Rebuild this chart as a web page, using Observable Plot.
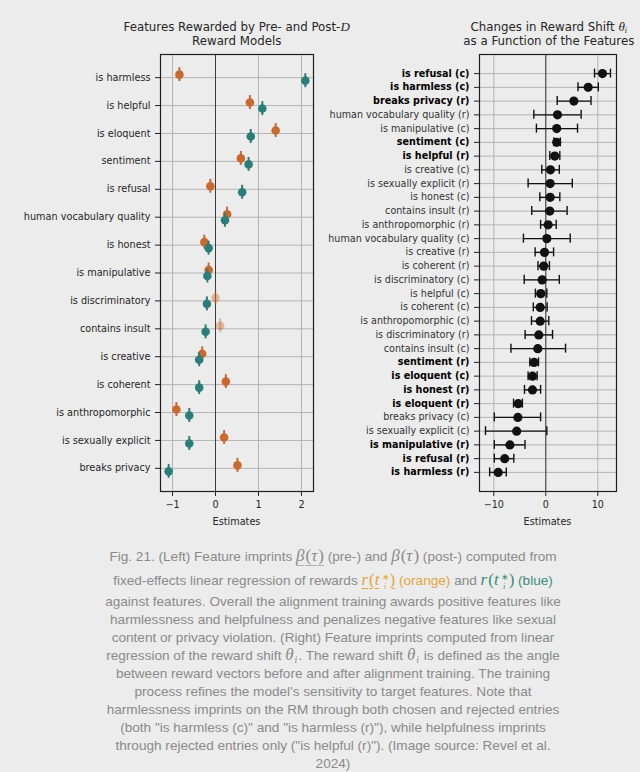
<!DOCTYPE html>
<html>
<head>
<meta charset="utf-8">
<script src="https://cdn.jsdelivr.net/npm/d3@7"></script>
<script src="https://cdn.jsdelivr.net/npm/@observablehq/plot@0.6"></script>
<style>
  html, body { margin: 0; padding: 0; background: #ececec; }
  #root { position: relative; width: 640px; height: 772px; overflow: hidden; background: #ececec; font-family: "DejaVu Sans", sans-serif; }
  .panel { position: absolute; top: 0; }
  .title { position: absolute; width: 300px; text-align: center; font-size: 11.8px; line-height: 14px; color: #262626; white-space: nowrap; }
  .title .mi { font-family: "Liberation Serif", serif; font-style: italic; font-size: 13px; }
  .title sub { font-size: 8px; font-family: "Liberation Serif", serif; font-style: italic; vertical-align: -2px; line-height: 0; }
  .xlabel { position: absolute; width: 200px; text-align: center; font-size: 9.7px; line-height: 12px; color: #262626; }
  .cap { position: absolute; left: 26px; width: 614px; text-align: center; font-family: "Liberation Sans", sans-serif; font-size: 13.6px; line-height: 18px; height: 18px; color: #8a8a8a; white-space: nowrap; }
  .m { font-family: "Liberation Serif", serif; font-size: 17px; line-height: 0; }
  .m i { font-style: italic; padding-right: 1px; }
  .ul { text-decoration: underline; text-decoration-color: #b0b0b0; text-underline-offset: 4px; }
  .or { color: #e4a53e; }
  .bl { color: #3d8c78; }
  .ulo { text-decoration: underline; text-decoration-color: #e4a53e; text-underline-offset: 3px; }
  .ss { display: inline-flex; flex-direction: column; font-size: 8.5px; line-height: 9px; vertical-align: 5px; margin-left: 1px; }
  .sub { font-size: 10px; vertical-align: -3px; line-height: 0; }
</style>
</head>
<body>
<div id="root">
  <div id="left" class="panel" style="left:0px"></div>
  <div id="right" class="panel" style="left:320px"></div>
  <div class="title" style="left:86.7px; top:19.6px">Features Rewarded by Pre- and Post-<span class="mi">D</span><br>Reward Models</div>
  <div class="title" style="left:398.8px; top:19.6px">Changes in Reward Shift <span class="mi">θ</span><sub>i</sub><br>as a Function of the Features</div>
  <div class="xlabel" style="left:136.5px; top:515.5px">Estimates</div>
  <div class="xlabel" style="left:447.5px; top:515.5px">Estimates</div>
  <div id="caption"></div>
</div>
<script>
// ---------- Left panel data ----------
const leftFeatures = ["is harmless", "is helpful", "is eloquent", "sentiment", "is refusal",
  "human vocabulary quality", "is honest", "is manipulative", "is discriminatory", "contains insult",
  "is creative", "is coherent", "is anthropomorphic", "is sexually explicit", "breaks privacy"];
const preEstimates  = [-0.84, 0.80, 1.40, 0.59, -0.12, 0.27, -0.26, -0.16, 0.00, 0.11, -0.31, 0.24, -0.91, 0.20, 0.51];
const postEstimates = [2.09, 1.09, 0.82, 0.77, 0.62, 0.22, -0.16, -0.19, -0.20, -0.23, -0.38, -0.38, -0.61, -0.61, -1.09];
const preFaded = ["is discriminatory", "contains insult"];
const leftXTicks = [-1, 0, 1, 2];

// ---------- Right panel data ----------
const rightFeatures = ["is refusal (c)", "is harmless (c)", "breaks privacy (r)", "human vocabulary quality (r)",
  "is manipulative (c)", "sentiment (c)", "is helpful (r)", "is creative (c)", "is sexually explicit (r)",
  "is honest (c)", "contains insult (r)", "is anthropomorphic (r)", "human vocabulary quality (c)",
  "is creative (r)", "is coherent (r)", "is discriminatory (c)", "is helpful (c)", "is coherent (c)",
  "is anthropomorphic (c)", "is discriminatory (r)", "contains insult (c)", "sentiment (r)",
  "is eloquent (c)", "is honest (r)", "is eloquent (r)", "breaks privacy (c)", "is sexually explicit (c)",
  "is manipulative (r)", "is refusal (r)", "is harmless (r)"];
const rightEstimates = [10.9, 8.15, 5.4, 2.25, 2.1, 2.1, 1.73, 0.9, 0.84, 0.84, 0.77, 0.45, 0.2, -0.25, -0.4,
  -0.7, -0.96, -1.08, -1.08, -1.35, -1.54, -2.24, -2.56, -2.56, -5.3, -5.37, -5.6, -6.9, -7.9, -9.15];
const rightLower = [9.37, 6.2, 2.2, -2.3, -1.8, 1.55, 0.77, -0.77, -3.4, -1.15, -2.7, -1.0, -4.3, -2.05, -1.5,
  -4.15, -2.0, -2.4, -2.75, -3.97, -6.7, -3.07, -3.4, -4.1, -6.2, -9.9, -11.6, -9.9, -9.9, -10.8];
const rightUpper = [12.44, 10.1, 8.7, 6.8, 6.1, 2.8, 2.7, 2.6, 5.1, 2.7, 4.1, 2.0, 4.7, 1.5, 0.7,
  2.6, 0.2, 0.26, 0.58, 1.3, 3.8, -1.4, -1.66, -1.0, -4.5, -1.0, 0.2, -4.0, -6.15, -7.6];
const rightBold = [true, true, true, false, false, true, true, false, false, false, false, false, false, false, false,
  false, false, false, false, false, false, true, true, true, true, false, false, true, true, true];
const rightXTicks = [-10, 0, 10];

// ---------- Colors ----------
const orange = "#c9692f";
const teal = "#2a7d79";
const gridColor = "#b4b4b4";
const textColor = "#262626";

// ---------- Left panel ----------
const preRows = leftFeatures.map((f, i) => ({feature: f, est: preEstimates[i], op: preFaded.includes(f) ? 0.4 : 1}));
const postRows = leftFeatures.map((f, i) => ({feature: f, est: postEstimates[i]}));

const leftPlot = Plot.plot({
  width: 320, height: 540,
  marginLeft: 160, marginRight: 7, marginTop: 54, marginBottom: 49,
  style: {background: "transparent", fontFamily: "DejaVu Sans", fontSize: "9.7px", color: textColor},
  x: {domain: [-1.28, 2.28], label: null},
  y: {type: "band", domain: leftFeatures, paddingInner: 0.5, paddingOuter: 0.58, round: false, label: null},
  marks: [
    Plot.gridY({stroke: gridColor, strokeOpacity: 1, strokeWidth: 1}),
    Plot.gridX(leftXTicks, {stroke: gridColor, strokeOpacity: 1, strokeWidth: 1}),
    Plot.ruleX([0], {stroke: "#3c3c3c", strokeWidth: 1}),
    Plot.tickX(preRows, {x: "est", y: "feature", dy: -3, stroke: orange, strokeWidth: 2, strokeOpacity: "op"}),
    Plot.dot(preRows, {x: "est", y: "feature", dy: -3, r: 4.3, fill: orange, fillOpacity: "op"}),
    Plot.tickX(postRows, {x: "est", y: "feature", dy: 3, stroke: teal, strokeWidth: 2}),
    Plot.dot(postRows, {x: "est", y: "feature", dy: 3, r: 4.3, fill: teal}),
    Plot.frame({stroke: "#1f1f1f", strokeWidth: 1.2}),
    Plot.axisX(leftXTicks, {tickSize: 5, tickPadding: 5, label: null, stroke: "#1f1f1f"}),
    Plot.axisY({tickSize: 5, tickPadding: 5, label: null, stroke: "#1f1f1f"})
  ]
});
document.getElementById("left").appendChild(leftPlot);

// ---------- Right panel ----------
const rightRows = rightFeatures.map((f, i) => ({
  feature: f, est: rightEstimates[i], lo: rightLower[i], hi: rightUpper[i], bold: rightBold[i]
}));

const rightPlot = Plot.plot({
  width: 320, height: 540,
  marginLeft: 159, marginRight: 24, marginTop: 54, marginBottom: 49,
  style: {background: "transparent", fontFamily: "DejaVu Sans", fontSize: "9.6px", color: textColor},
  x: {domain: [-12.75, 13.6], label: null},
  y: {type: "band", domain: rightFeatures, paddingInner: 0.345, paddingOuter: 1.0625, round: false, label: null},
  marks: [
    Plot.gridY({stroke: gridColor, strokeOpacity: 1, strokeWidth: 1}),
    Plot.gridX(rightXTicks, {stroke: gridColor, strokeOpacity: 1, strokeWidth: 1}),
    Plot.ruleX([0], {stroke: "#3c3c3c", strokeWidth: 1}),
    Plot.ruleY(rightRows, {y: "feature", x1: "lo", x2: "hi", stroke: "#111", strokeWidth: 1.4}),
    Plot.tickX(rightRows, {x: "lo", y: "feature", stroke: "#111", strokeWidth: 1.4}),
    Plot.tickX(rightRows, {x: "hi", y: "feature", stroke: "#111", strokeWidth: 1.4}),
    Plot.dot(rightRows, {x: "est", y: "feature", r: 4.6, fill: "#111"}),
    Plot.frame({stroke: "#1f1f1f", strokeWidth: 1.2}),
    Plot.axisX(rightXTicks, {tickSize: 5, tickPadding: 5, label: null, stroke: "#1f1f1f"}),
    Plot.axisY({tickSize: 5, tickFormat: () => "", label: null, stroke: "#1f1f1f"}),
    Plot.text(rightRows.filter(d => !d.bold), {y: "feature", text: "feature", frameAnchor: "left", textAnchor: "end", dx: -10, fill: "#333"}),
    Plot.text(rightRows.filter(d => d.bold), {y: "feature", text: "feature", frameAnchor: "left", textAnchor: "end", dx: -10, fill: "#000", fontWeight: "bold"})
  ]
});
document.getElementById("right").appendChild(rightPlot);

// ---------- Caption ----------
const rT = '<i>r</i>(<i>t</i><span class="ss"><span>∗</span><span><i>i</i></span></span>)';
const captionLines = [
  'Fig. 21. (Left) Feature imprints <span class="m ul"><i>β</i>(<i>τ</i>)</span> (pre-) and <span class="m"><i>β</i>(<i>τ</i>)</span> (post-) computed from',
  'fixed-effects linear regression of rewards <span class="m or ulo">' + rT + '</span> <span class="or">(orange)</span> and <span class="m bl">' + rT + '</span> <span class="bl">(blue)</span>',
  'against features. Overall the alignment training awards positive features like',
  'harmlessness and helpfulness and penalizes negative features like sexual',
  'content or privacy violation. (Right) Feature imprints computed from linear',
  'regression of the reward shift <span class="m"><i>θ</i><span class="sub"><i>i</i></span></span>. The reward shift <span class="m"><i>θ</i><span class="sub"><i>i</i></span></span> is defined as the angle',
  'between reward vectors before and after alignment training. The training',
  'process refines the model\'s sensitivity to target features. Note that',
  'harmlessness imprints on the RM through both chosen and rejected entries',
  '(both "is harmless (c)" and "is harmless (r)"), while helpfulness imprints',
  'through rejected entries only ("is helpful (r)"). (Image source: Revel et al.',
  '2024)'
];
const cap = document.getElementById("caption");
captionLines.forEach((html, i) => {
  const d = document.createElement("div");
  d.className = "cap";
  const center = i === 0 ? 558 : i === 1 ? 582 : 602.7 + 18.1 * (i - 2);
  d.style.top = (center - 10.2) + "px";
  d.innerHTML = html;
  cap.appendChild(d);
});
</script>
</body>
</html>
